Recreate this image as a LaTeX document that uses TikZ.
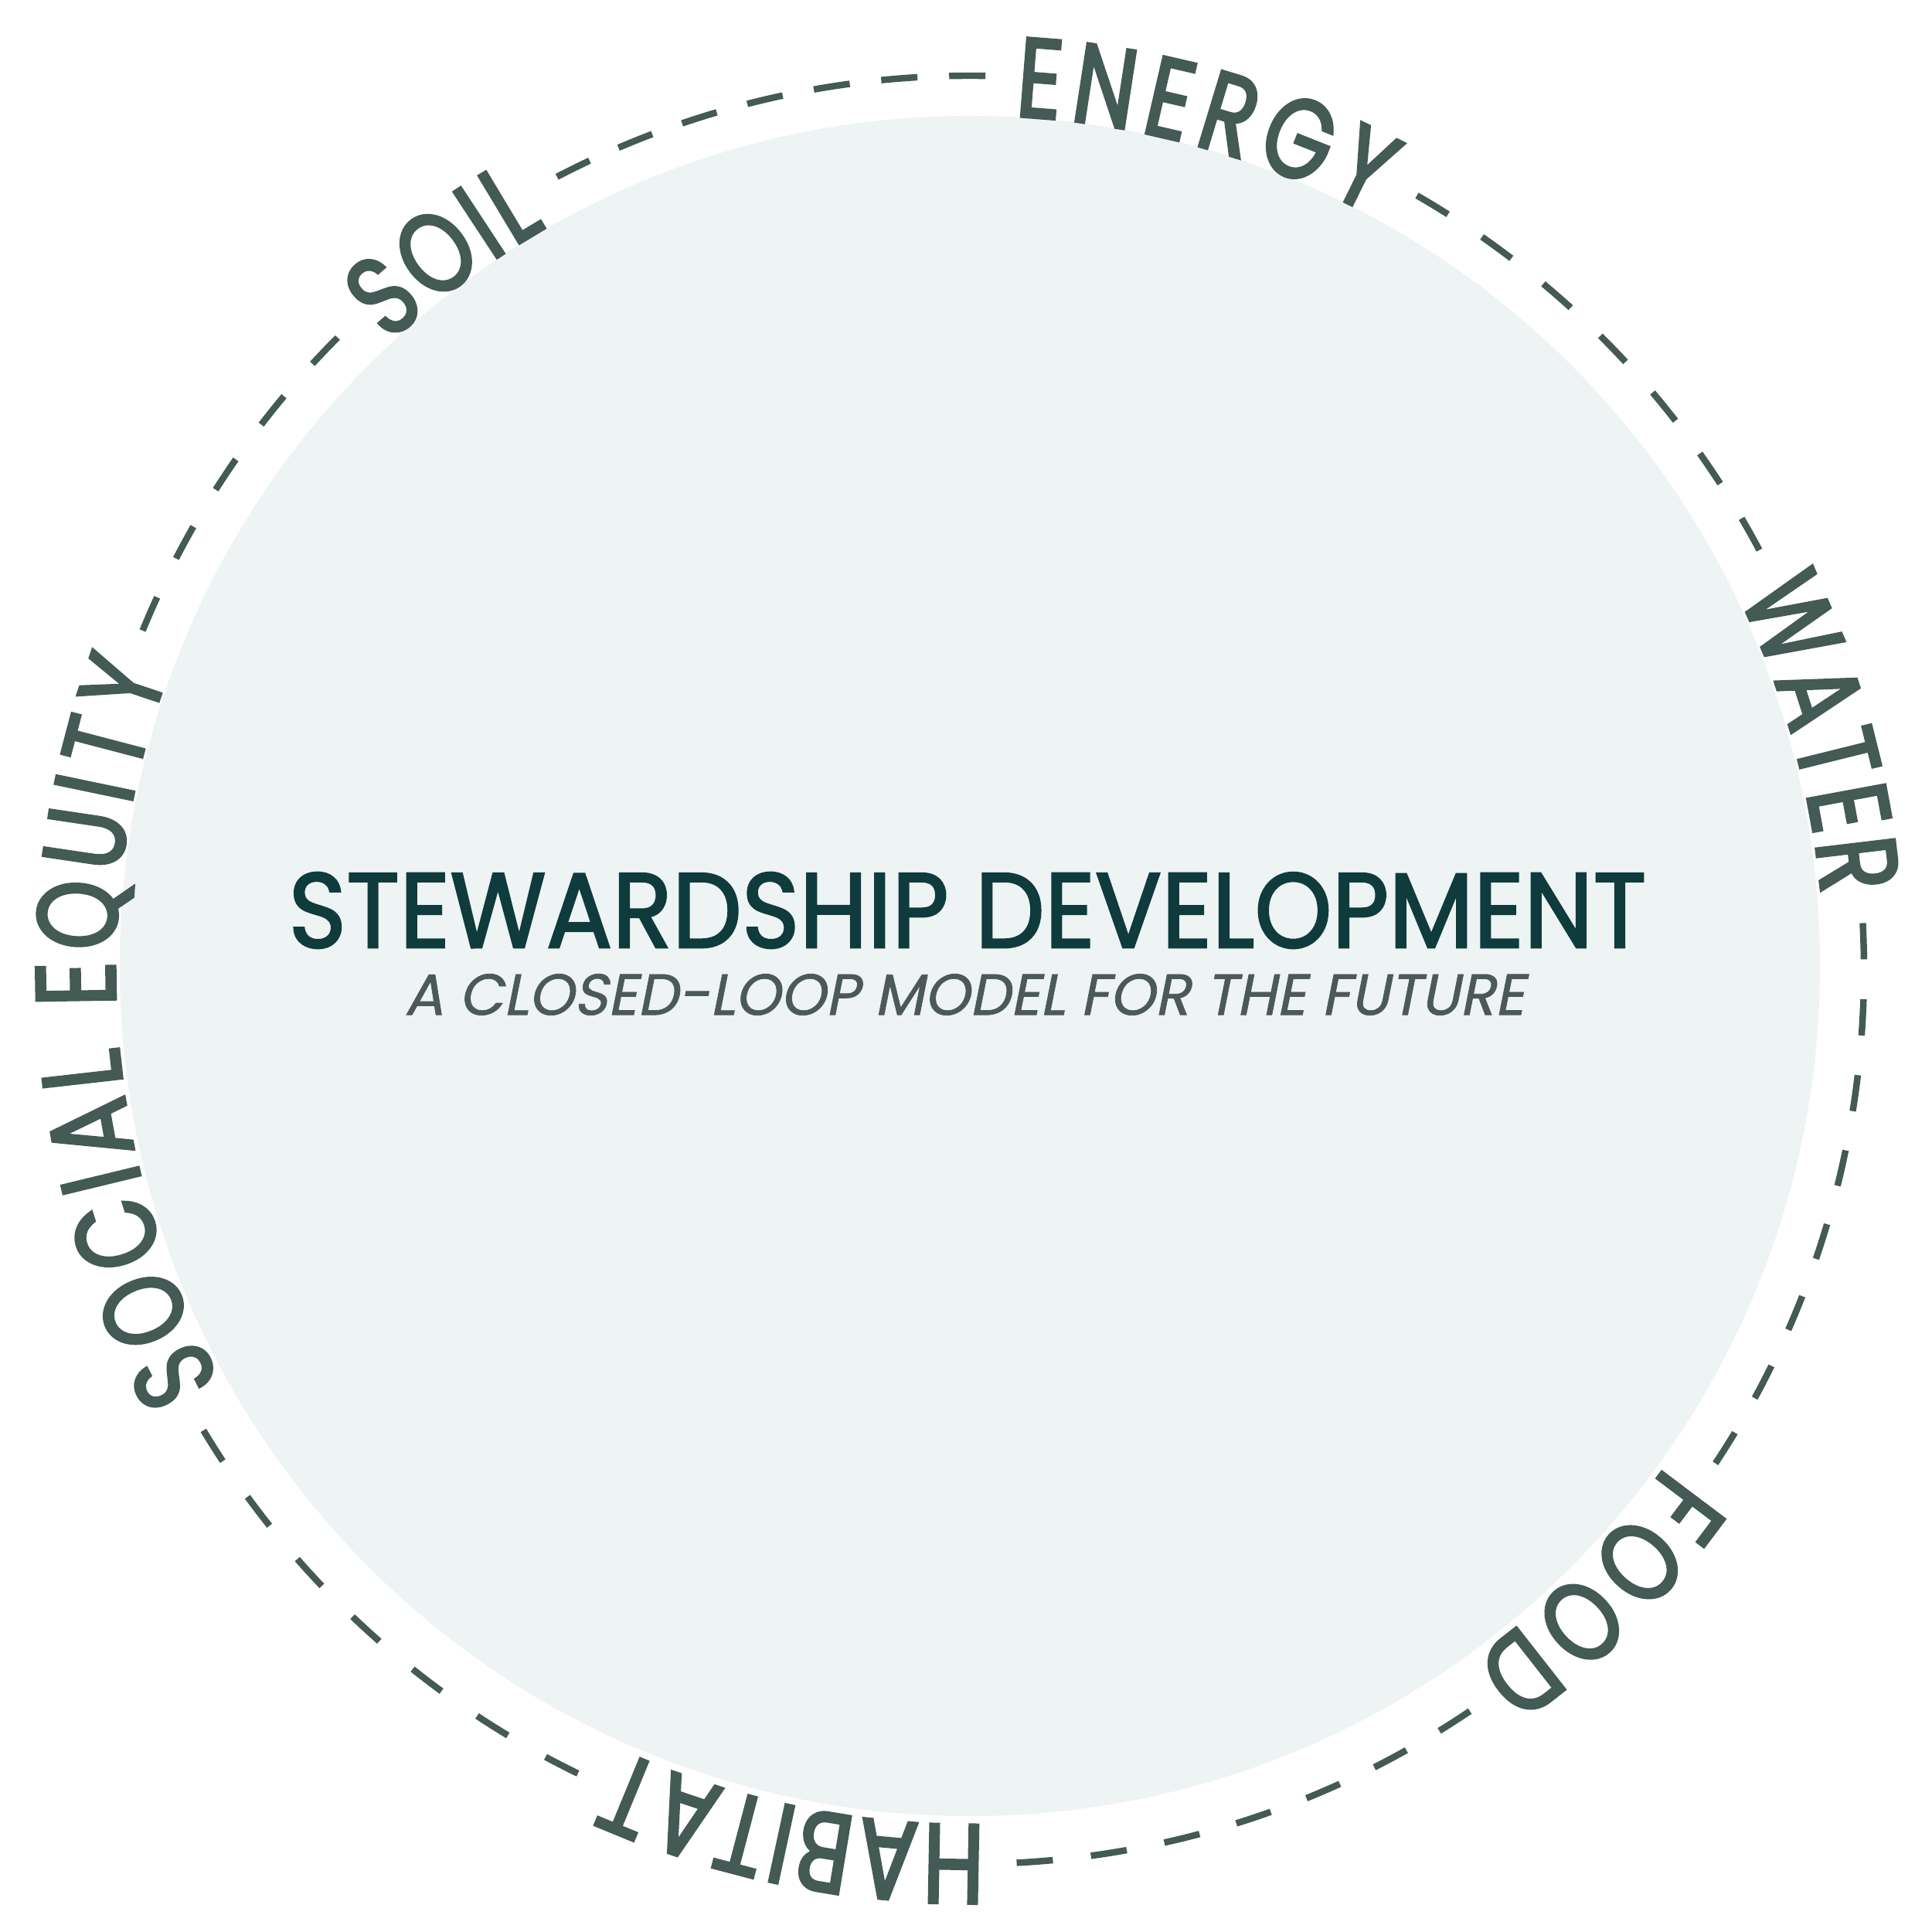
\documentclass[tikz,border=0pt]{standalone}
\usepackage{fontspec}
\usepackage{graphicx}
\usetikzlibrary{decorations.text}
\newfontfamily\ringfont[FakeStretch=0.78,FakeBold=2.5]{Poppins}
\newfontfamily\titlefont[FakeBold=2]{Poppins}
\newfontfamily\subfont[FakeSlant=0.2,FakeBold=1]{Poppins}
\definecolor{ringgreen}{HTML}{435A55}
\definecolor{titleteal}{HTML}{0F3B3C}
\definecolor{subgray}{HTML}{4B5A56}
\definecolor{discfill}{HTML}{EEF3F3}
\tikzset{
  ring dash/.style={draw=ringgreen, line width=2.4pt},
  ring word/.style={decorate, decoration={text along path,
      text={|\ringfont\fontsize{41.6}{42}\selectfont\color{ringgreen}|#1},
      text align={fit to path}}},
}

\begin{document}
\begin{tikzpicture}
%define stuff
\def\ringr{11.57}
\def\wordr{11.06}
%set bounding box
\useasboundingbox (-12.55,-12.45) rectangle (12.45,12.55);
%background disc
\fill[discfill] (0,0.05) circle[radius=11];
%dashed pieces between the words (gap stretched so each piece ends on a dash)
\foreach \a/\b in {60/28, 3/-33.5, -56/-87, -116/-149, 157.7/135, 117.5/89}
{
	\pgfmathsetmacro\arclen{\ringr*abs(\a-\b)*pi/180}
	\pgfmathsetmacro\ndash{round((\arclen+0.49)/0.96)}
	\pgfmathsetmacro\gaplen{(\arclen-\ndash*0.47)/(\ndash-1)}
	\draw[ring dash, dash pattern=on 0.47cm off \gaplen cm]
		(\a:\ringr) arc[start angle=\a, end angle=\b, radius=\ringr];
}
%words along the ring, clockwise
\path[ring word=ENERGY] (87:\wordr) arc[start angle=87, end angle=62, radius=\wordr];
\path[ring word=WATER] (26:\wordr) arc[start angle=26, end angle=5, radius=\wordr];
\path[ring word=FOOD] (-35.5:\wordr) arc[start angle=-35.5, end angle=-54, radius=\wordr];
\path[ring word=HABITAT] (-89:\wordr) arc[start angle=-89, end angle=-114, radius=\wordr];
\path[ring word=SOCIAL EQUITY] (208.8:\wordr) arc[start angle=208.8, end angle=159.7, radius=\wordr];
\path[ring word=SOIL] (132.8:\wordr) arc[start angle=132.8, end angle=119.7, radius=\wordr];
%title
\node[text=titleteal, inner sep=0] (title) at (-0.03,0.77)
	{\resizebox{17.57cm}{0.97cm}{\titlefont\fontsize{40}{40}\selectfont STEWARDSHIP DEVELOPMENT}};
\node[text=subgray, inner sep=0] (subtitle) at (-0.07,-0.32)
	{\resizebox{14.49cm}{0.53cm}{\subfont\fontsize{22}{22}\selectfont A CLOSED-LOOP MODEL FOR THE FUTURE}};
\end{tikzpicture}
\end{document}
